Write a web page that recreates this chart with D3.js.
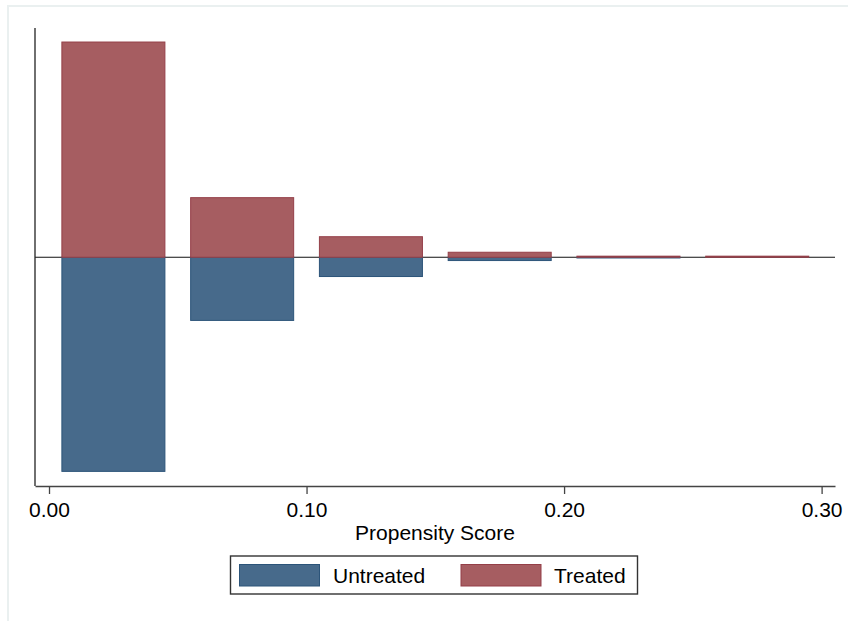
<!DOCTYPE html>
<html>
<head>
<meta charset="utf-8">
<script src="https://cdn.jsdelivr.net/npm/d3@7"></script>
<style>
  html, body { margin: 0; padding: 0; background: #ffffff; }
  svg { display: block; }
  text { font-family: "Liberation Sans", Arial, sans-serif; fill: #000; }
</style>
</head>
<body>
<script>
// Propensity score bins (lower edge), bar width leaves a gap inside each 0.05 bin
const binStarts = [0.00, 0.05, 0.10, 0.15, 0.20, 0.25];
const binWidth = 0.05;
const barWidth = 0.04;
// Densities: treated drawn above the zero line, untreated mirrored below
const treated   = [14.27, 3.95, 1.36, 0.33, 0.07, 0.07];
const untreated = [14.20, 4.19, 1.28, 0.22, 0.05, 0.00];
const xTicks = [0.00, 0.10, 0.20, 0.30];
const seriesNames = ["Untreated", "Treated"];
const seriesFill = ["#476a8b", "#a65d61"];
const seriesStroke = ["#2c5479", "#943f48"];

const W = 848, H = 621;
const svg = d3.select("body").append("svg").attr("width", W).attr("height", H);

// faint outer graph-region frame
svg.append("rect")
  .attr("x", 8).attr("y", 6).attr("width", W).attr("height", H)
  .attr("fill", "none").attr("stroke", "#eaf0f0").attr("stroke-width", 2);

const x = d3.scaleLinear().domain([-0.00544, 0.3052]).range([35, 835]);
const y = d3.scaleLinear().domain([-15.17, 15.2]).range([486, 28]);

// zero reference line
svg.append("line")
  .attr("x1", x.range()[0]).attr("x2", x.range()[1])
  .attr("y1", y(0)).attr("y2", y(0))
  .attr("stroke", "#111").attr("stroke-width", 1.2);

const rows = binStarts.map((b, i) => ({ b, t: treated[i], u: untreated[i] }));
const pad = (binWidth - barWidth) / 2;

// untreated bars (downward)
svg.append("g").selectAll("rect").data(rows.filter(d => d.u > 0)).join("rect")
  .attr("x", d => x(d.b + pad))
  .attr("width", d => x(d.b + pad + barWidth) - x(d.b + pad))
  .attr("y", y(0))
  .attr("height", d => y(-d.u) - y(0))
  .attr("fill", seriesFill[0]).attr("stroke", seriesStroke[0]).attr("stroke-width", 1);

// treated bars (upward)
svg.append("g").selectAll("rect").data(rows.filter(d => d.t > 0)).join("rect")
  .attr("x", d => x(d.b + pad))
  .attr("width", d => x(d.b + pad + barWidth) - x(d.b + pad))
  .attr("y", d => y(d.t))
  .attr("height", d => y(0) - y(d.t))
  .attr("fill", seriesFill[1]).attr("stroke", seriesStroke[1]).attr("stroke-width", 1);

// y axis line (no ticks or labels)
svg.append("line")
  .attr("x1", 35).attr("x2", 35).attr("y1", y.range()[1]).attr("y2", y.range()[0])
  .attr("stroke", "#222").attr("stroke-width", 1.3);

// x axis
const xAxis = d3.axisBottom(x).tickValues(xTicks).tickFormat(d3.format(".2f"))
  .tickSizeOuter(0).tickSizeInner(8).tickPadding(8);
const gx = svg.append("g").attr("transform", `translate(0,${y.range()[0]})`).call(xAxis);
gx.select(".domain").attr("stroke", "#444").attr("stroke-width", 1.3);
gx.selectAll(".tick line").attr("stroke", "#444").attr("stroke-width", 1.3);
gx.selectAll(".tick text").attr("font-size", 21).attr("font-family", "Liberation Sans, Arial, sans-serif").attr("fill", "#000");

svg.append("text")
  .attr("x", 435).attr("y", 540)
  .attr("text-anchor", "middle").attr("font-size", 21)
  .text("Propensity Score");

// legend
const lg = svg.append("g");
lg.append("rect")
  .attr("x", 230.5).attr("y", 556).attr("width", 407).attr("height", 38)
  .attr("fill", "#fff").attr("stroke", "#333").attr("stroke-width", 1.4);
const legendX = [239.5, 461];
const textX = [333, 554];
seriesNames.forEach((name, i) => {
  lg.append("rect")
    .attr("x", legendX[i]).attr("y", 564.5).attr("width", 80).attr("height", 21.5)
    .attr("fill", seriesFill[i]).attr("stroke", seriesStroke[i]).attr("stroke-width", 1);
  lg.append("text")
    .attr("x", textX[i]).attr("y", 583).attr("font-size", 21).text(name);
});
</script>
</body>
</html>
